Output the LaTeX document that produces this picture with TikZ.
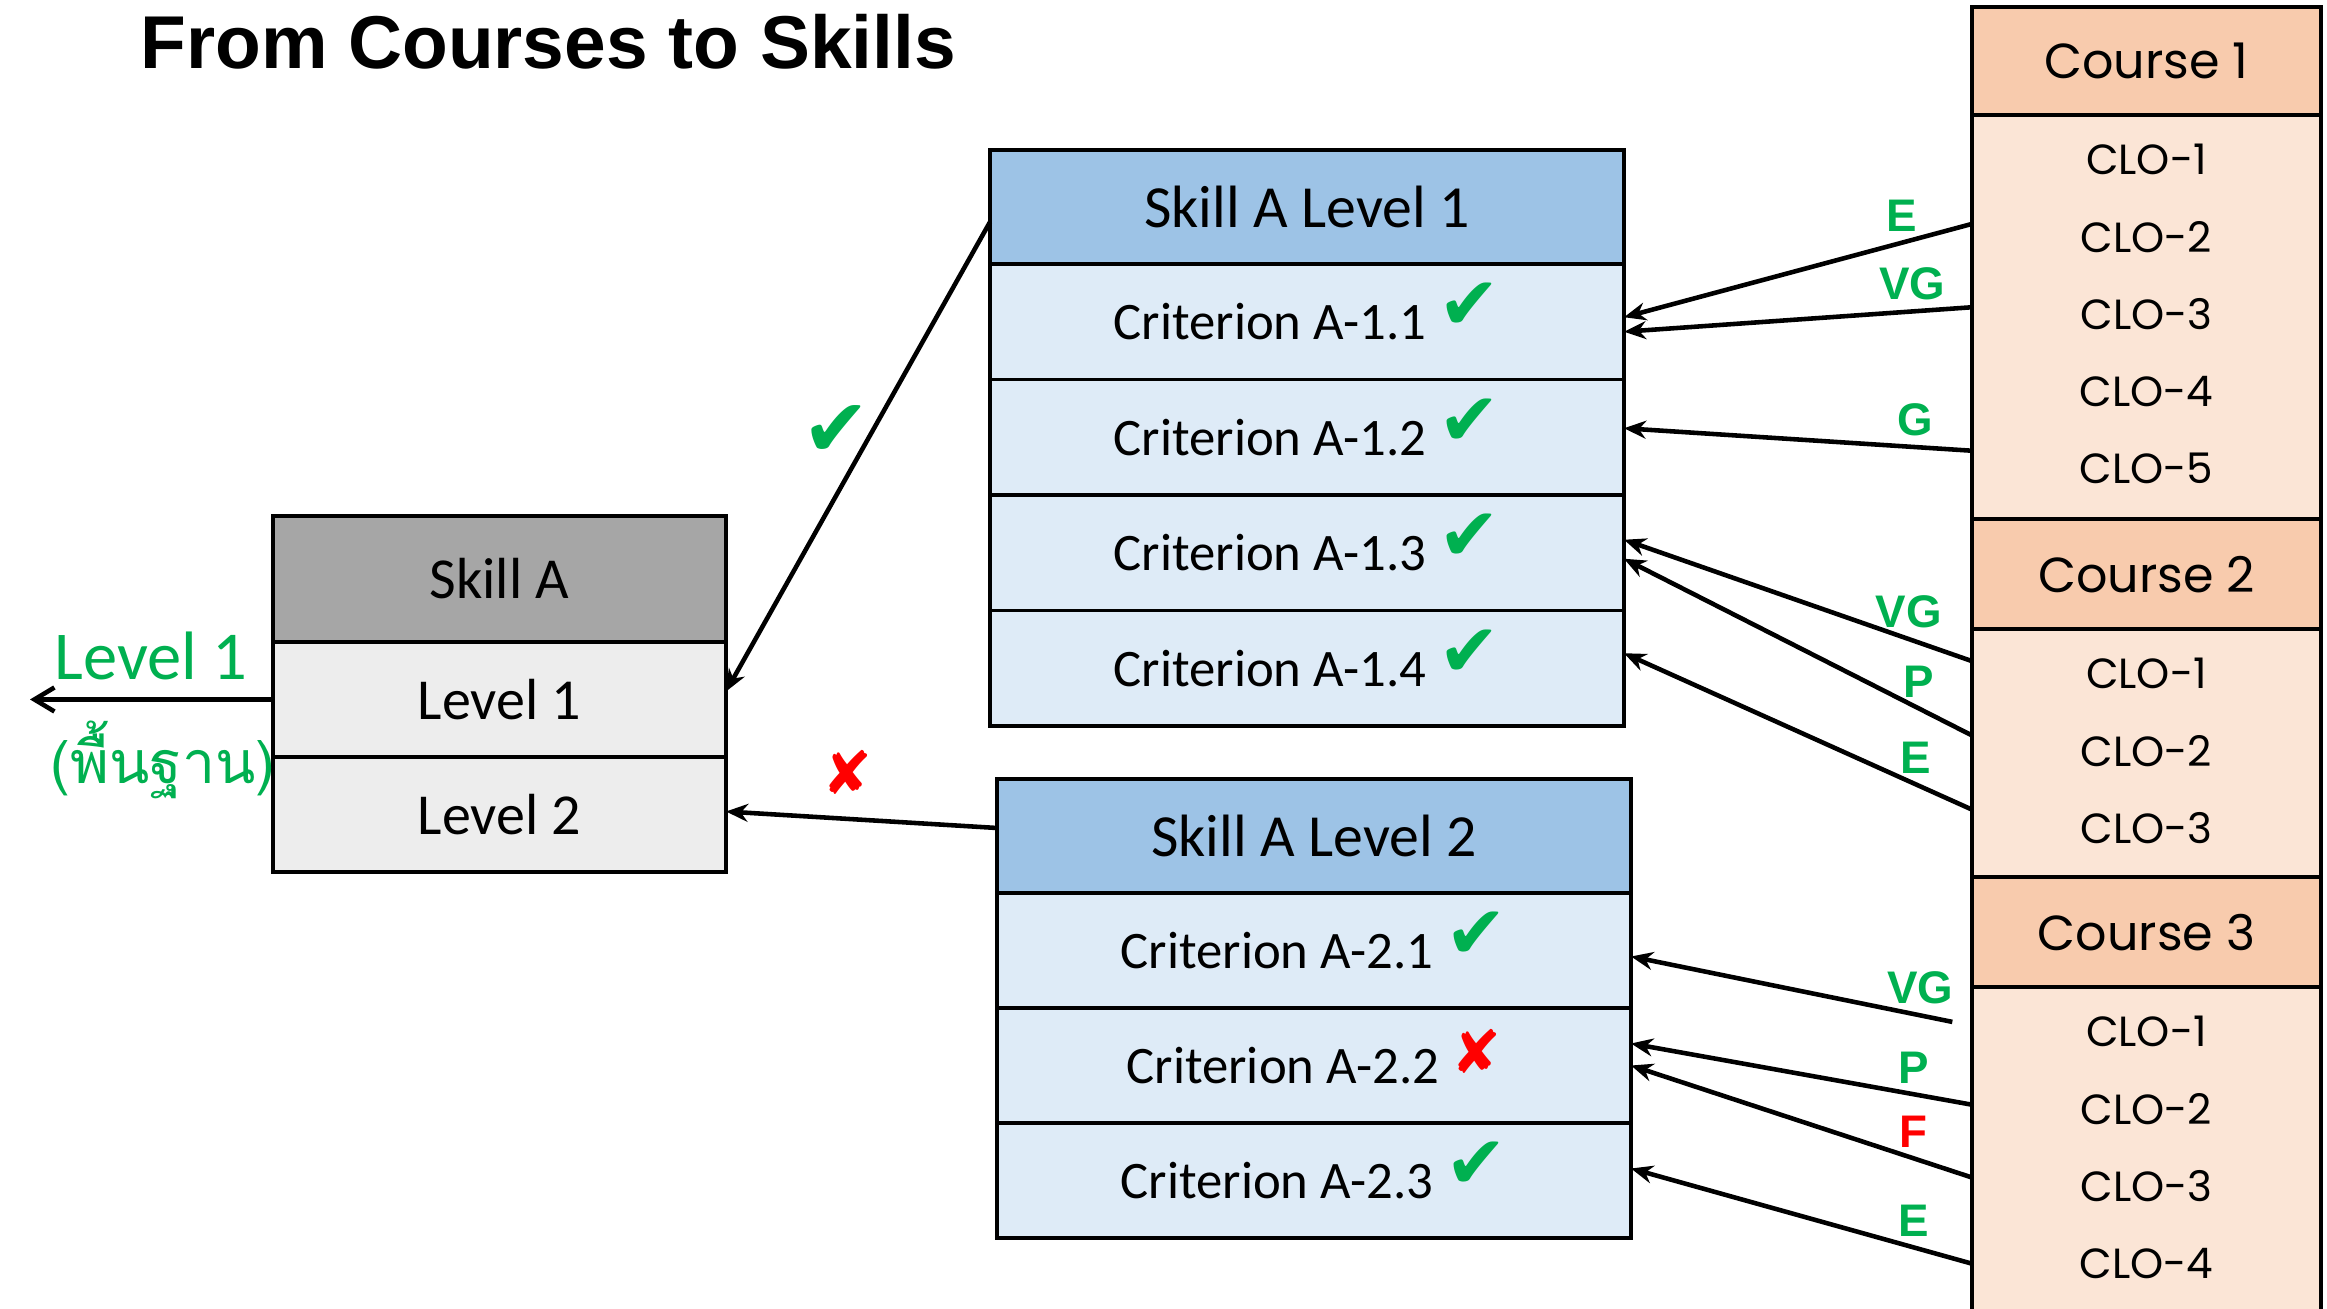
\documentclass[tikz,border=0pt]{standalone}
\usepackage{fontspec}
\setmainfont{Carlito}
\newfontfamily\thaifont[Script=Thai]{Loma}
\newfontfamily\headfont{Liberation Sans}
\newfontfamily\roundfont{Poppins}
\newfontfamily\markfont{DejaVu Sans}
\usetikzlibrary{arrows.meta, calc, positioning}

\definecolor{skillgray}{HTML}{A6A6A6}
\definecolor{rowgray}{HTML}{EDEDED}
\definecolor{headblue}{HTML}{9DC3E6}
\definecolor{rowblue}{HTML}{DEEBF7}
\definecolor{headpeach}{HTML}{F8CBAD}
\definecolor{rowpeach}{HTML}{FBE5D6}
\definecolor{passgreen}{HTML}{00B050}
\definecolor{failred}{HTML}{FF0000}

\newcommand{\okmark}[1][21]{\smash{\raisebox{1mm}{\markfont\fontsize{#1}{#1}\selectfont\color{passgreen}✔}}}
\newcommand{\nomark}[1][17]{\smash{\raisebox{1mm}{\markfont\fontsize{#1}{#1}\selectfont\color{failred}✘}}}

\begin{document}
\begin{tikzpicture}[font=\fontsize{15}{18}\selectfont]
  \tikzset{
    cell/.style={draw, line width=1.1pt, fill=#1, inner sep=0pt, outer sep=0pt},
    grade/.style={line width=1.3pt, -{Stealth[length=2.2mm, width=1.8mm]}},
    gradelbl/.style={font=\headfont\bfseries\fontsize{13}{13}\selectfont,
      text=passgreen, above=0.7mm, inner sep=0.5pt},
    clotext/.style={font=\roundfont\fontsize{12}{14}\selectfont,
      minimum width=3.49cm, inner sep=0pt}
  }

  \useasboundingbox (0,0) rectangle (23.27,-13.09);

  \node[anchor=west, font=\headfont\bfseries\fontsize{21.3}{24}\selectfont]
    (title) at (1.28,-0.42) {From Courses to Skills};

  % skill A with its two levels
  \begin{scope}[font=\fontsize{16.5}{18}\selectfont]
    \node[cell=skillgray, minimum width=4.53cm, minimum height=1.26cm,
      anchor=north west] (skillA) at (2.73,-5.16) {Skill A};
    \node[cell=rowgray, minimum width=4.53cm, minimum height=1.15cm,
      below=0pt of skillA] (lvl1) {Level 1};
    \node[cell=rowgray, minimum width=4.53cm, minimum height=1.15cm,
      below=0pt of lvl1] (lvl2) {Level 2};
  \end{scope}

  \coordinate[left=2.43cm of lvl1.west] (lvlout);
  \draw[line width=1.3pt, -{Straight Barb[length=2mm, width=2.4mm]}]
    (lvl1.west) -- (lvlout);
  \node[text=passgreen, font=\fontsize{19.5}{22}\selectfont]
    (lvlname) at (1.51,-6.56) {Level 1};
  \node[text=passgreen, font=\thaifont\fontsize{16.8}{22}\selectfont]
    (lvlthai) at (1.63,-7.60) {(พื้นฐาน)};

  % criteria of level 1
  \node[cell=headblue, minimum width=6.34cm, minimum height=1.14cm,
    anchor=north west, font=\fontsize{17}{18}\selectfont]
    (skillA1) at (9.90,-1.50) {Skill A Level 1};
  \foreach \k in {1,...,4}
    \node[cell=rowblue, minimum width=6.34cm, minimum height=1.155cm, anchor=north]
      (crit1\k) at ($(skillA1.south)+(0,{-1.155*(\k-1)})$) {Criterion A-1.\k\ \okmark};

  % criteria of level 2
  \node[cell=headblue, minimum width=6.34cm, minimum height=1.14cm,
    anchor=north west, font=\fontsize{17}{18}\selectfont]
    (skillA2) at (9.97,-7.79) {Skill A Level 2};
  \foreach \k/\m in {1/\okmark, 2/\nomark, 3/\okmark}
    \node[cell=rowblue, minimum width=6.34cm, minimum height=1.15cm, anchor=north]
      (crit2\k) at ($(skillA2.south)+(0,{-1.15*(\k-1)})$) {Criterion A-2.\k\ \m};

  % courses
  \begin{scope}[font=\roundfont\fontsize{14}{16}\selectfont]
    \node[cell=headpeach, minimum width=3.49cm, minimum height=1.08cm,
      anchor=north west] (course1) at (19.72,-0.074) {Course 1};
    \node[cell=rowpeach, minimum width=3.49cm, minimum height=4.04cm,
      below=0pt of course1] (clos1) {};
    \node[cell=headpeach, minimum width=3.49cm, minimum height=1.10cm,
      below=0pt of clos1] (course2) {Course 2};
    \node[cell=rowpeach, minimum width=3.49cm, minimum height=2.48cm,
      below=0pt of course2] (clos2) {};
    \node[cell=headpeach, minimum width=3.49cm, minimum height=1.10cm,
      below=0pt of clos2] (course3) {Course 3};
    \node[cell=rowpeach, minimum width=3.49cm, minimum height=3.6cm,
      below=0pt of course3] (clos3) {};
  \end{scope}

  \foreach \c/\n in {1/5, 2/3, 3/4}
    \foreach \k in {1,...,\n}
      \node[clotext] (clo\c\k) at ($(clos\c.north)+(0,{-0.445-0.772*(\k-1)})$) {CLO-\k};

  % levels passed up to skill A
  \draw[grade] ([yshift=-1.5mm]skillA1.west) -- ([yshift=0.8mm]lvl1.east)
    node[pos=.52, left=0.2mm, xshift=3.3mm] (passmk) {\okmark[23]};
  \draw[grade] ([yshift=0.8mm]skillA2.west) -- ([yshift=0.3mm]lvl2.east)
    node[pos=.55, above=0mm] (failmk) {\nomark};

  % grades from the CLOs
  \draw[grade] ([yshift=1.3mm]clo12.west) -- ([yshift=0.45mm]crit11.east)
    node[gradelbl, pos=.2] {E};
  \draw[grade] ([yshift=0.7mm]clo13.west) -- ([yshift=-1mm]crit11.east)
    node[gradelbl, pos=.17] {VG};
  \draw[grade] ([yshift=1.8mm]clo15.west) -- ([yshift=0.9mm]crit12.east)
    node[gradelbl, pos=.16] {G};
  \draw[grade] ([yshift=1.3mm]clo21.west) -- ([yshift=1.3mm]crit13.east)
    node[gradelbl, pos=.18] {VG};
  \draw[grade] ([yshift=1.6mm]clo22.west) -- ([yshift=-0.6mm]crit13.east)
    node[gradelbl, pos=.15] {P};
  \draw[grade] ([yshift=1.9mm]clo23.west) -- ([yshift=1.5mm]crit14.east)
    node[gradelbl, pos=.16] {E};
  \draw[grade] ([xshift=-1.9mm, yshift=1mm]clo31.west) -- ([yshift=-0.6mm]crit21.east)
    node[gradelbl, pos=.1] {VG};
  \draw[grade] ([yshift=0.45mm]clo32.west) -- ([yshift=2.2mm]crit22.east)
    node[gradelbl, pos=.17] {P};
  \draw[grade] ([yshift=0.9mm]clo33.west) -- (crit22.east)
    node[gradelbl, pos=.17, text=failred] {F};
  \draw[grade] (clo34.west) -- ([yshift=1.2mm]crit23.east)
    node[gradelbl, pos=.17] {E};
\end{tikzpicture}
\end{document}
